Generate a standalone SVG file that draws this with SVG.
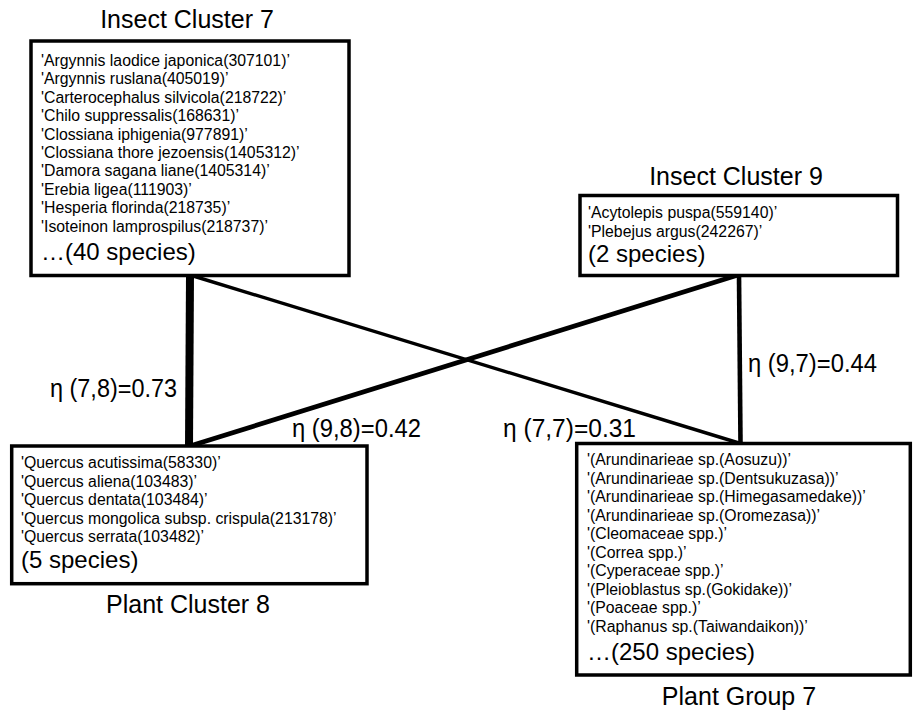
<svg xmlns="http://www.w3.org/2000/svg" width="917" height="714" viewBox="0 0 917 714">
<style>
text{font-family:"Liberation Sans",Arial,sans-serif;fill:#000}
.title{font-size:25px;text-anchor:middle}
.sp{font-size:15.8px}
.cnt{font-size:24px}
.lbl{font-size:26px}
.box{fill:#fff;stroke:#000;stroke-width:3.5}
.edge{stroke:#000;fill:none;stroke-linecap:butt}
</style>
<rect width="917" height="714" fill="#fff"/>
<g id="connectors">
<line class="edge" x1="190" y1="275" x2="189" y2="446" stroke-width="8"/>
<line class="edge" x1="190" y1="275" x2="740.5" y2="443.5" stroke-width="3.4"/>
<line class="edge" x1="738" y1="275" x2="190" y2="446" stroke-width="4.8"/>
<line class="edge" x1="739" y1="275" x2="740.5" y2="443.5" stroke-width="4.6"/>
<text class="lbl" x="50" y="397" textLength="127" lengthAdjust="spacingAndGlyphs">η (7,8)=0.73</text>
<text class="lbl" x="292" y="437" textLength="129" lengthAdjust="spacingAndGlyphs">η (9,8)=0.42</text>
<text class="lbl" x="503" y="437" textLength="133" lengthAdjust="spacingAndGlyphs">η (7,7)=0.31</text>
<text class="lbl" x="748" y="372" textLength="129" lengthAdjust="spacingAndGlyphs">η (9,7)=0.44</text>
</g>
<g id="insect7">
<text class="title" x="187" y="28">Insect Cluster 7</text>
<rect class="box" x="31" y="41" width="318" height="234.5"/>
<text class="sp" x="41" y="66">'Argynnis laodice japonica(307101)’</text>
<text class="sp" x="41" y="84.4">'Argynnis ruslana(405019)’</text>
<text class="sp" x="41" y="102.8">'Carterocephalus silvicola(218722)’</text>
<text class="sp" x="41" y="121.2">'Chilo suppressalis(168631)’</text>
<text class="sp" x="41" y="139.6">'Clossiana iphigenia(977891)’</text>
<text class="sp" x="41" y="158">'Clossiana thore jezoensis(1405312)’</text>
<text class="sp" x="41" y="176.4">'Damora sagana liane(1405314)’</text>
<text class="sp" x="41" y="194.8">'Erebia ligea(111903)’</text>
<text class="sp" x="41" y="213.2">'Hesperia florinda(218735)’</text>
<text class="sp" x="41" y="231.6">'Isoteinon lamprospilus(218737)’</text>
<text class="cnt" x="41" y="260">…(40 species)</text>
</g>
<g id="insect9">
<text class="title" x="736" y="185">Insect Cluster 9</text>
<rect class="box" x="580" y="195.5" width="317.5" height="80"/>
<text class="sp" x="588" y="218">'Acytolepis puspa(559140)’</text>
<text class="sp" x="588" y="237">'Plebejus argus(242267)’</text>
<text class="cnt" x="588" y="262">(2 species)</text>
</g>
<g id="plant8">
<rect class="box" x="11.7" y="446" width="355.3" height="137.7"/>
<text class="sp" x="21" y="468">'Quercus acutissima(58330)’</text>
<text class="sp" x="21" y="486.6">'Quercus aliena(103483)’</text>
<text class="sp" x="21" y="505.2">'Quercus dentata(103484)’</text>
<text class="sp" x="21" y="523.8">'Quercus mongolica subsp. crispula(213178)’</text>
<text class="sp" x="21" y="542.4">'Quercus serrata(103482)’</text>
<text class="cnt" x="21" y="568">(5 species)</text>
<text class="title" x="188" y="613">Plant Cluster 8</text>
</g>
<g id="plant7">
<rect class="box" x="576.7" y="443.5" width="333.6" height="231.5"/>
<text class="sp" x="587" y="465">'(Arundinarieae sp.(Aosuzu))’</text>
<text class="sp" x="587" y="483.5">'(Arundinarieae sp.(Dentsukuzasa))’</text>
<text class="sp" x="587" y="502">'(Arundinarieae sp.(Himegasamedake))’</text>
<text class="sp" x="587" y="520.5">'(Arundinarieae sp.(Oromezasa))’</text>
<text class="sp" x="587" y="539">'(Cleomaceae spp.)’</text>
<text class="sp" x="587" y="557.5">'(Correa spp.)’</text>
<text class="sp" x="587" y="576">'(Cyperaceae spp.)’</text>
<text class="sp" x="587" y="594.5">'(Pleioblastus sp.(Gokidake))’</text>
<text class="sp" x="587" y="613">'(Poaceae spp.)’</text>
<text class="sp" x="587" y="631.5">'(Raphanus sp.(Taiwandaikon))’</text>
<text class="cnt" x="587" y="660">…(250 species)</text>
<text class="title" x="739" y="705">Plant Group 7</text>
</g>
</svg>
